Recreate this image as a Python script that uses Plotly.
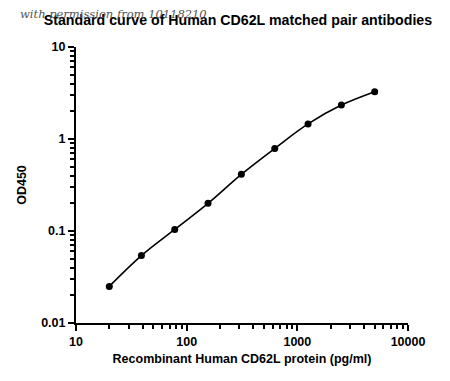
import plotly.graph_objects as go

conc = [20, 39, 78, 156, 312, 625, 1250, 2500, 5000]
od450 = [0.025, 0.054, 0.104, 0.200, 0.413, 0.79, 1.46, 2.34, 3.27]
x_ticks = [10, 100, 1000, 10000]
x_labels = ["10", "100", "1000", "10000"]
y_ticks = [0.01, 0.1, 1, 10]
y_labels = ["0.01", "0.1", "1", "10"]

x_minor = [d * m for d in x_ticks[:-1] for m in range(2, 10)]
y_minor = [round(d * m, 4) for d in y_ticks[:-1] for m in range(2, 10)]

FONT = "Liberation Sans, Arial"

fig = go.Figure()
fig.add_trace(go.Scatter(
    x=conc, y=od450, mode="lines+markers",
    line=dict(color="black", width=1.6, shape="spline"),
    marker=dict(color="black", size=7),
    showlegend=False,
))

axis_common = dict(
    type="log", showgrid=False, zeroline=False,
    showline=True, linecolor="black", linewidth=2,
    ticks="outside", ticklen=6, tickwidth=2, tickcolor="black",
    tickfont=dict(family=FONT, size=12.5, color="black", weight="bold"),
)

fig.update_xaxes(
    **axis_common,
    range=[1, 4],
    tickvals=x_ticks, ticktext=x_labels,
    minor=dict(ticks="outside", ticklen=4, tickwidth=2, tickcolor="black",
               showgrid=False, tickvals=x_minor),
    title=dict(text="Recombinant Human CD62L protein (pg/ml)",
               font=dict(family=FONT, size=12.5, color="black", weight="bold"),
               standoff=6),
)
fig.update_yaxes(
    **axis_common,
    range=[-2, 1],
    tickvals=y_ticks, ticktext=y_labels,
    minor=dict(ticks="outside", ticklen=4, tickwidth=2, tickcolor="black",
               showgrid=False, tickvals=y_minor),
    title=dict(text="OD450",
               font=dict(family=FONT, size=12.5, color="black", weight="bold"),
               standoff=12),
)

fig.update_layout(
    width=450, height=381,
    margin=dict(l=59, r=50, t=39, b=66),
    paper_bgcolor="white", plot_bgcolor="white",
    title=dict(text="Standard curve of Human CD62L matched pair antibodies",
               font=dict(family=FONT, size=14.2, color="black", weight="bold"),
               x=0.511, xanchor="center", xref="container",
               y=0.968, yanchor="middle", yref="container"),
)
fig.add_annotation(
    text="with permission from 10118210", xref="paper", yref="paper",
    x=-0.175, y=1.12, xanchor="left", yanchor="middle", showarrow=False,
    font=dict(family="DejaVu Serif, serif", size=11.5, color="#555555", style="italic"),
)

fig.write_html("out.html")
